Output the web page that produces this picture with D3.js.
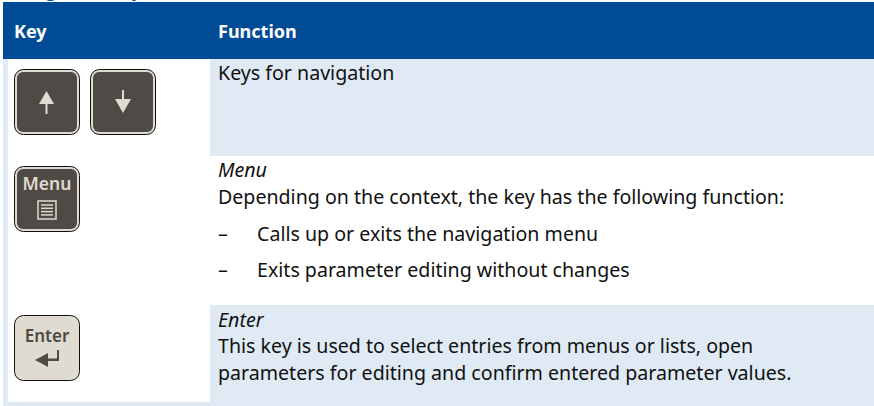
<!DOCTYPE html>
<html>
<head>
<meta charset="utf-8">
<script src="https://cdn.jsdelivr.net/npm/d3@7"></script>
<style>
html, body { margin: 0; padding: 0; background: #fff; overflow: hidden; }
svg { display: block; }
text { font-family: "Noto Sans", sans-serif; }
</style>
</head>
<body>
<div id="chart"></div>
<script>
var columns = ["Key", "Function"];
var sectionTitle = "Navigation keys";
var navigationLines = ["Keys for navigation"];
var menuLines = [
  "Menu",
  "Depending on the context, the key has the following function:"
];
var menuBullets = [
  "Calls up or exits the navigation menu",
  "Exits parameter editing without changes"
];
var enterLines = [
  "Enter",
  "This key is used to select entries from menus or lists, open",
  "parameters for editing and confirm entered parameter values."
];

var width = 874,
    height = 406;

var blue = "#004b96",
    pale = "#dfeaf5",
    dark = "#4f4a45",
    cream = "#e0dbd0",
    ink = "#111";

var svg = d3.select("#chart").append("svg")
    .attr("width", width)
    .attr("height", height);

// table background
svg.append("rect").attr("x", 3).attr("y", 59).attr("width", width - 3).attr("height", height - 59).attr("fill", pale);
svg.append("rect").attr("x", 8).attr("y", 59).attr("width", 202).attr("height", 343).attr("fill", "#fff");
svg.append("rect").attr("x", 210).attr("y", 156).attr("width", width - 210).attr("height", 149).attr("fill", "#fff");
svg.append("rect").attr("x", 3).attr("y", 2).attr("width", width - 3).attr("height", 57).attr("fill", blue);

// clipped heading above the table
svg.append("text").attr("x", 3).attr("y", -4)
    .attr("font-size", 19).attr("font-weight", 600).attr("fill", blue)
    .text(sectionTitle);

// header
svg.selectAll("text.head")
    .data(columns)
  .enter().append("text")
    .attr("class", "head")
    .attr("x", function(d, i) { return i ? 218 : 14; })
    .attr("y", 38)
    .attr("font-size", 18)
    .attr("font-weight", 700)
    .attr("fill", "#fff")
    .text(function(d) { return d; });

function addText(content, x, y, italic) {
  return svg.append("text")
      .attr("x", x)
      .attr("y", y)
      .attr("font-size", 19.6)
      .attr("font-style", italic ? "italic" : "normal")
      .attr("fill", ink)
      .text(content);
}

addText(navigationLines[0], 218, 80);
addText(menuLines[0], 218, 177, true);
addText(menuLines[1], 218, 204);
menuBullets.forEach(function(d, i) {
  addText("\u2013", 218, 241 + i * 36);
  addText(d, 257, 241 + i * 36);
});
addText(enterLines[0], 218, 327, true);
addText(enterLines[1], 218, 353);
addText(enterLines[2], 218, 380);

// key caps
function keyCap(x, y, fill) {
  var g = svg.append("g").attr("transform", "translate(" + x + "," + y + ")");
  g.append("rect").attr("x", 0.5).attr("y", 0.5).attr("width", 65).attr("height", 65).attr("rx", 9)
      .attr("fill", cream).attr("stroke", "#111").attr("stroke-width", 1);
  if (fill === dark) {
    g.append("rect").attr("x", 3).attr("y", 3).attr("width", 60).attr("height", 60).attr("rx", 6)
        .attr("fill", dark);
  }
  return g;
}

var up = keyCap(14, 69, dark);
up.append("path").attr("d", "M32.5 22 L40 35 L33.5 35 L33.5 45 L31.5 45 L31.5 35 L25 35 Z").attr("fill", cream);
var down = keyCap(90, 69, dark);
down.append("path").attr("d", "M33 44 L41 30 L34 30 L34 21 L32 21 L32 30 L25 30 Z").attr("fill", cream);

var menu = keyCap(14, 166, dark);
menu.append("text").attr("x", 33).attr("y", 24).attr("text-anchor", "middle")
    .attr("font-size", 17.5).attr("font-weight", 600).attr("fill", cream).text("Menu");
menu.append("rect").attr("x", 24).attr("y", 35).attr("width", 18).attr("height", 18)
    .attr("fill", "none").attr("stroke", cream).attr("stroke-width", 1.5);
d3.range(4).forEach(function(i) {
  menu.append("line").attr("x1", 27).attr("x2", 39).attr("y1", 39 + i * 3.3).attr("y2", 39 + i * 3.3)
      .attr("stroke", cream).attr("stroke-width", 1.5);
});

var enter = keyCap(14, 315, cream);
enter.append("text").attr("x", 33).attr("y", 27).attr("text-anchor", "middle")
    .attr("font-size", 17).attr("font-weight", 600).attr("fill", dark).text("Enter");
enter.append("path").attr("d", "M21 45 L34 38 L34 43.5 L43 43.5 L43 35 L45 35 L45 46 L34 46 L34 52 Z").attr("fill", dark);
</script>
</body>
</html>
